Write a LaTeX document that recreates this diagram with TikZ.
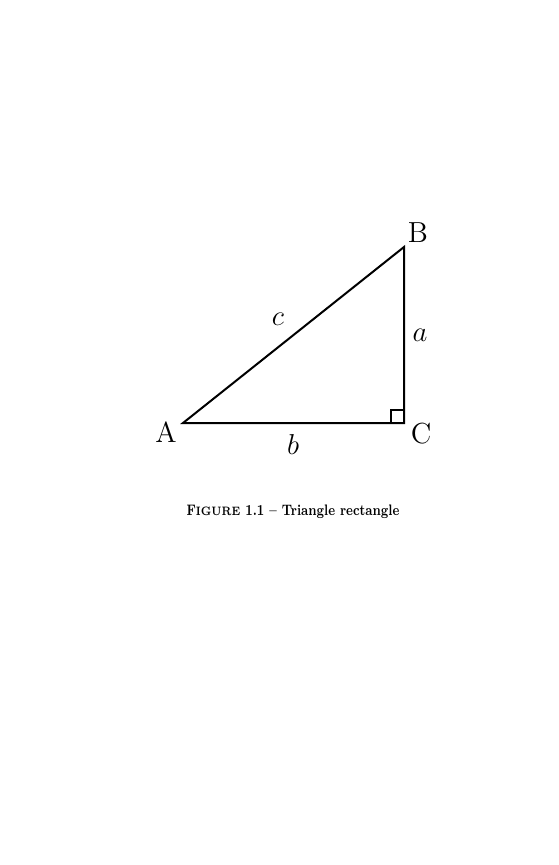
\documentclass[tikz,border=0pt]{standalone}
\usepackage{graphicx}
\usepackage{tikz}
\usetikzlibrary{positioning}

\tikzset{
  side/.style={line width=1pt},
  vertex/.style={inner sep=0pt,font=\fontsize{14.5}{17}\selectfont},
  sidelab/.style={inner sep=0pt,font=\fontsize{14.5}{17}\selectfont\itshape}
}

\begin{document}
\begin{tikzpicture}[x=0.5pt,y=-0.5pt]
  \useasboundingbox (0,0) rectangle (558,865);
  \coordinate (A) at (183,423);
  \coordinate (C) at (404,423);
  \coordinate (B) at (404,247);
  \draw[side] (A) -- (C) -- (B) -- cycle;
  \draw[line width=0.8pt] (391,423) -- (391,410) -- (404,410);
  \node[vertex] (labA) at (166,432) {A};
  \node[vertex] (labB) at (418,233) {B};
  \node[vertex] (labC) at (421,434) {C};
  \node[sidelab] (laba) at (420,335) {$a$};
  \node[sidelab] (labb) at (293,444) {$b$};
  \node[sidelab] (labc) at (278,319) {$c$};
  \node[inner sep=0pt,font=\fontsize{7.6}{9}\selectfont\bfseries] (caption) at (293,512)
    {\scalebox{0.8}[1]{F{\fontsize{6.1}{8}\selectfont IGURE} 1.1 -- Triangle rectangle}};
\end{tikzpicture}
\end{document}
